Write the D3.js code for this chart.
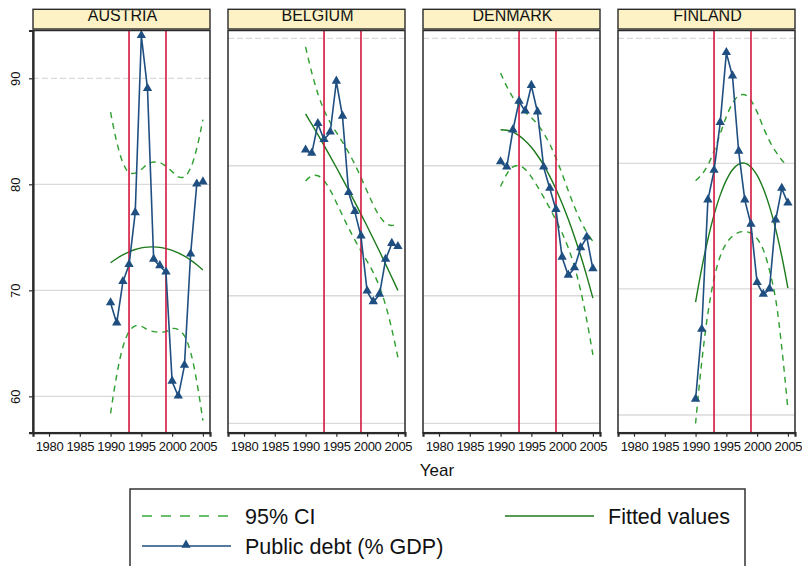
<!DOCTYPE html>
<html>
<head>
<meta charset="utf-8">
<script src="https://cdn.jsdelivr.net/npm/d3@7"></script>
<style>
  html, body { margin: 0; padding: 0; background: #fff; }
  svg { display: block; }
  text { font-family: "Liberation Sans", Arial, sans-serif; fill: #111; }
  .narrow { font-family: "Liberation Sans Narrow", "Arial Narrow", "Liberation Sans", sans-serif; }
</style>
</head>
<body>
<svg id="chart" width="802" height="566"></svg>
<script>
// Public debt (% of GDP) by country, 1990-2005, with quadratic fit and 95% CI
const countries = ["AUSTRIA", "BELGIUM", "DENMARK", "FINLAND"];
const years = [1990, 1991, 1992, 1993, 1994, 1995, 1996, 1997, 1998, 1999, 2000, 2001, 2002, 2003, 2004, 2005];

const debtAustria = [68.8, 66.9, 70.8, 72.4, 77.3, 94.0, 89.0, 72.9, 72.3, 71.7, 61.4, 60.0, 62.9, 73.4, 80.0, 80.2];
const debtBelgium = [83.2, 82.9, 85.7, 84.2, 84.9, 89.7, 86.4, 79.2, 77.4, 75.1, 69.9, 68.9, 69.6, 72.9, 74.4, 74.1];
const debtDenmark = [82.1, 81.6, 85.1, 87.8, 86.9, 89.3, 86.8, 81.6, 79.6, 77.6, 73.1, 71.4, 72.1, 74.0, 75.0, 72.0];
const debtFinland = [59.7, 66.3, 78.5, 81.3, 85.8, 92.4, 90.2, 83.1, 78.5, 76.2, 70.7, 69.6, 70.1, 76.6, 79.6, 78.2];

const fitAustria = [72.60, 73.00, 73.35, 73.63, 73.85, 74.00, 74.08, 74.10, 74.05, 73.94, 73.77, 73.53, 73.22, 72.85, 72.42, 71.92];
const fitBelgium = [86.64, 85.67, 84.68, 83.67, 82.64, 81.59, 80.52, 79.43, 78.32, 77.19, 76.04, 74.87, 73.68, 72.47, 71.24, 69.99];
const fitDenmark = [85.15, 85.10, 84.92, 84.59, 84.11, 83.49, 82.72, 81.81, 80.75, 79.54, 78.19, 76.70, 75.06, 73.28, 71.34, 69.27];
const fitFinland = [68.89, 72.07, 74.82, 77.12, 78.98, 80.40, 81.38, 81.91, 82.00, 81.64, 80.84, 79.60, 77.92, 75.79, 73.22, 70.21];

const ciHighAustria = [86.80, 84.00, 82.05, 81.10, 81.05, 81.40, 81.90, 82.10, 82.05, 81.70, 81.20, 80.70, 80.70, 81.55, 83.40, 86.10];
const ciLowAustria  = [58.40, 62.00, 64.65, 66.10, 66.65, 66.60, 66.30, 66.10, 66.05, 66.10, 66.40, 66.30, 65.70, 64.15, 61.40, 57.70];
const ciHighBelgium = [92.96, 90.55, 88.55, 87.00, 85.83, 84.89, 83.98, 82.99, 81.88, 80.65, 79.34, 78.06, 77.01, 76.34, 76.12, 76.31];
const ciLowBelgium  = [80.32, 80.79, 80.81, 80.34, 79.45, 78.29, 77.06, 75.87, 74.76, 73.73, 72.74, 71.68, 70.35, 68.60, 66.36, 63.67];
const ciHighDenmark = [90.50, 89.24, 88.20, 87.41, 86.81, 86.28, 85.65, 84.83, 83.77, 82.47, 80.98, 79.40, 77.88, 76.56, 75.48, 74.62];
const ciLowDenmark  = [79.80, 80.96, 81.64, 81.77, 81.41, 80.70, 79.79, 78.79, 77.73, 76.61, 75.40, 74.00, 72.24, 70.00, 67.20, 63.92];
const ciHighFinland = [80.34, 80.92, 81.82, 83.14, 84.76, 86.37, 87.64, 88.36, 88.45, 87.90, 86.81, 85.38, 84.10, 83.10, 82.30, 81.70];
const ciLowFinland  = [57.44, 63.22, 67.82, 71.10, 73.20, 74.43, 75.12, 75.46, 75.55, 75.38, 74.87, 73.82, 71.90, 69.20, 64.60, 58.76];

const gridAustria = [60, 70, 80, 90];
const gridBelgium = [57.45, 69.49, 81.75, 93.77];
const gridDenmark = [57.45, 69.49, 81.75, 93.77];
const gridFinland = [58.24, 70.13, 81.98, 93.77];

const xTickValues = [1980, 1985, 1990, 1995, 2000, 2005];
const yTickValues = [60, 70, 80, 90];
const markerYears = [1993, 1999];

const legendLabels = ["95% CI", "Fitted values", "Public debt (% GDP)"];
const xTitle = "Year";

const panels = [
  { name: countries[0], debt: debtAustria, fit: fitAustria, hi: ciHighAustria, lo: ciLowAustria, grid: gridAustria },
  { name: countries[1], debt: debtBelgium, fit: fitBelgium, hi: ciHighBelgium, lo: ciLowBelgium, grid: gridBelgium },
  { name: countries[2], debt: debtDenmark, fit: fitDenmark, hi: ciHighDenmark, lo: ciLowDenmark, grid: gridDenmark },
  { name: countries[3], debt: debtFinland, fit: fitFinland, hi: ciHighFinland, lo: ciLowFinland, grid: gridFinland }
];

// ---- layout ----
const svg = d3.select("#chart");
const panelLeft0 = 33, panelStep = 195, panelW = 177;
const plotTop = 30.5, plotBottom = 432.7;
const headTop = 9.3, headBottom = 29;

const colDebt = "#1f4f80";
const colFit = "#1c7a1c";
const colCI = "#2e9e2e";
const colRef = "#d4153f";
const colGrid = "#dadada";
const colFrame = "#2a2a2a";

const y = d3.scaleLinear().domain([56.57, 94.51]).range([plotBottom, plotTop]);

const defs = svg.append("defs");

panels.forEach((p, i) => {
  const left = panelLeft0 + i * panelStep;
  const x = d3.scaleLinear().domain([1977.4, 2006.15]).range([left, left + panelW]);
  const g = svg.append("g").attr("class", "panel");

  // header strip; the title is clipped by the strip's top border
  const clipId = "head-clip-" + i;
  defs.append("clipPath").attr("id", clipId)
    .append("rect").attr("x", left).attr("y", 10.2).attr("width", panelW).attr("height", headBottom - 10.2);
  g.append("rect")
    .attr("x", left).attr("y", headTop).attr("width", panelW).attr("height", headBottom - headTop)
    .attr("fill", "#fdf2c6").attr("stroke", colFrame).attr("stroke-width", 1.4);
  g.append("text")
    .attr("clip-path", `url(#${clipId})`)
    .attr("x", left + panelW / 2 + 1).attr("y", 21)
    .attr("text-anchor", "middle").attr("font-size", 16)
    .attr("fill", "#222")
    .text(p.name);

  // plot region background
  g.append("rect")
    .attr("x", left).attr("y", plotTop).attr("width", panelW).attr("height", plotBottom - plotTop)
    .attr("fill", "#fff");

  // grid lines
  p.grid.forEach((v, k) => {
    g.append("line")
      .attr("x1", left).attr("x2", left + panelW)
      .attr("y1", y(v)).attr("y2", y(v))
      .attr("stroke", colGrid).attr("stroke-width", 1.3)
      .attr("stroke-dasharray", k === p.grid.length - 1 ? "6,3" : null);
  });

  // CI bounds as dashed lines
  const line = d3.line().x((d, k) => x(years[k])).y(d => y(d)).curve(d3.curveCatmullRom.alpha(0.5));
  [p.hi, p.lo].forEach(arr => {
    g.append("path").attr("d", line(arr))
      .attr("fill", "none").attr("stroke", colCI).attr("stroke-width", 1.4)
      .attr("stroke-dasharray", "6,5");
  });

  // fitted values
  g.append("path").attr("d", line(p.fit))
    .attr("fill", "none").attr("stroke", colFit).attr("stroke-width", 1.4);

  // reference years
  markerYears.forEach(yr => {
    g.append("line")
      .attr("x1", x(yr)).attr("x2", x(yr))
      .attr("y1", plotTop).attr("y2", plotBottom)
      .attr("stroke", colRef).attr("stroke-width", 1.6);
  });

  // debt series
  const dline = d3.line().x((d, k) => x(years[k])).y(d => y(d));
  g.append("path").attr("d", dline(p.debt))
    .attr("fill", "none").attr("stroke", colDebt).attr("stroke-width", 1.6);
  const tri = d3.symbol().type(d3.symbolTriangle).size(38);
  g.selectAll("path.mk").data(p.debt).join("path")
    .attr("class", "mk")
    .attr("d", tri)
    .attr("transform", (d, k) => `translate(${x(years[k])},${y(d) - 0.5})`)
    .attr("fill", colDebt);

  // frame
  g.append("rect")
    .attr("x", left).attr("y", plotTop).attr("width", panelW).attr("height", plotBottom - plotTop)
    .attr("fill", "none").attr("stroke", colFrame).attr("stroke-width", 1.5);

  // x axis
  const xAxis = d3.axisBottom(x).tickValues(xTickValues).tickFormat(d3.format("d")).tickSize(4).tickPadding(5);
  const ax = g.append("g").attr("transform", `translate(0,${plotBottom})`).call(xAxis);
  ax.select(".domain").attr("stroke", colFrame).attr("stroke-width", 2.2);
  ax.selectAll(".tick line").attr("stroke", colFrame).attr("stroke-width", 1.2);
  ax.selectAll(".tick text").attr("class", "narrow").attr("font-size", 13).attr("fill", "#111")
    .attr("letter-spacing", "-0.3px");

  // y axis only on the first panel, labels rotated
  if (i === 0) {
    const yAxis = d3.axisLeft(y).tickValues(yTickValues).tickFormat(d3.format("d")).tickSize(4).tickPadding(0);
    const ay = g.append("g").attr("transform", `translate(${left},0)`).call(yAxis);
    ay.select(".domain").attr("stroke", colFrame).attr("stroke-width", 2.2);
    ay.selectAll(".tick line").attr("stroke", colFrame).attr("stroke-width", 1.2);
    ay.selectAll(".tick text")
      .attr("class", "narrow").attr("font-size", 13).attr("fill", "#111")
      .attr("text-anchor", "middle")
      .attr("x", 0).attr("y", 0).attr("dy", "0.35em")
      .attr("transform", `translate(${15.5 - left},0) rotate(-90)`);
  }
});

// x axis title
svg.append("text")
  .attr("x", 437).attr("y", 476)
  .attr("text-anchor", "middle").attr("font-size", 17)
  .text(xTitle);

// legend
const lg = svg.append("g");
lg.append("rect")
  .attr("x", 130).attr("y", 489).attr("width", 615).attr("height", 100)
  .attr("fill", "#fff").attr("stroke", "#333").attr("stroke-width", 1.5);
lg.append("line").attr("x1", 142).attr("x2", 231).attr("y1", 516).attr("y2", 516)
  .attr("stroke", "#3aaa3a").attr("stroke-width", 1.5).attr("stroke-dasharray", "10,9");
lg.append("text").attr("x", 245).attr("y", 524).attr("font-size", 21.5).text(legendLabels[0]);
lg.append("line").attr("x1", 505).attr("x2", 594).attr("y1", 516).attr("y2", 516)
  .attr("stroke", colFit).attr("stroke-width", 1.5);
lg.append("text").attr("x", 608).attr("y", 524).attr("font-size", 21.5).text(legendLabels[1]);
lg.append("line").attr("x1", 142).attr("x2", 231).attr("y1", 546).attr("y2", 546)
  .attr("stroke", colDebt).attr("stroke-width", 1.5);
lg.append("path").attr("d", d3.symbol().type(d3.symbolTriangle).size(38)())
  .attr("transform", "translate(186,545)").attr("fill", colDebt);
lg.append("text").attr("x", 245).attr("y", 554).attr("font-size", 21.5).text(legendLabels[2]);
</script>
</body>
</html>
